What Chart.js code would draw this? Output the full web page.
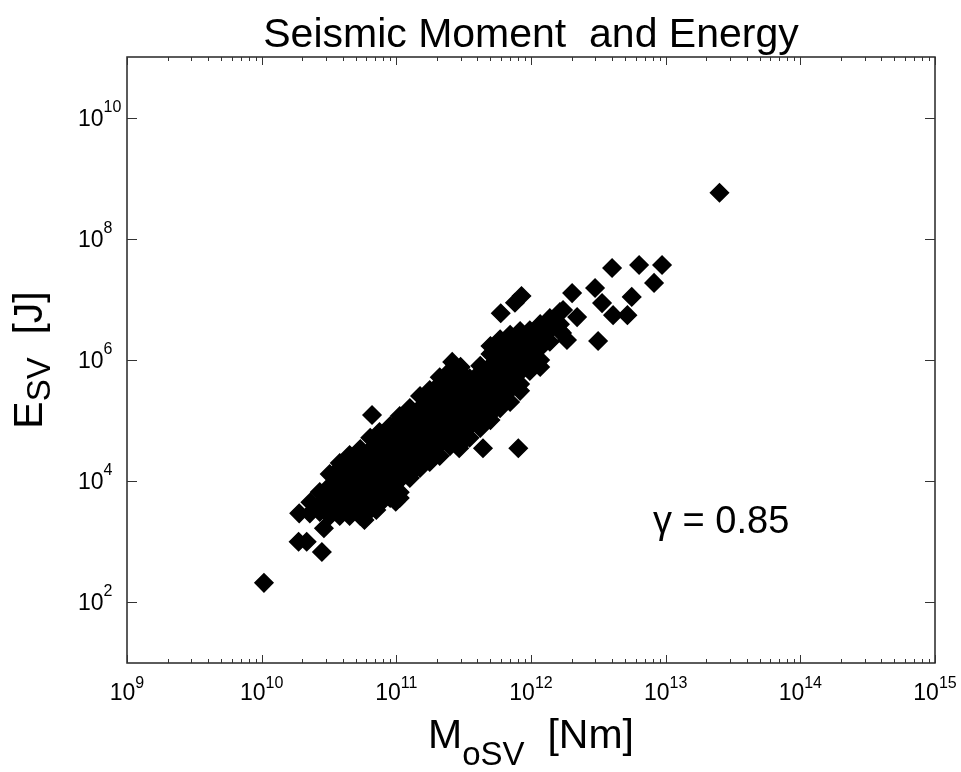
<!DOCTYPE html>
<html>
<head>
<meta charset="utf-8">
<title>Seismic Moment and Energy</title>
<script src="https://cdn.jsdelivr.net/npm/chart.js@4.4.0/dist/chart.umd.min.js"></script>
<style>
  html, body { margin: 0; padding: 0; background: #fff; }
  #wrap { width: 961px; height: 772px; }
</style>
</head>
<body>
<div id="wrap"><canvas id="chart" width="961" height="772"></canvas></div>
<script>
// ---- data (M in Nm, E in J) ----
// dense band: one moment per column, energies stacked in that column
const columnMoment = [
  2.3e10, 2.7e10, 3.2e10, 3.8e10, 4.5e10, 5.4e10, 6.4e10, 7.5e10, 9.0e10,
  1.06e11, 1.26e11, 1.5e11, 1.77e11, 2.1e11, 2.5e11, 3.0e11, 3.5e11, 4.2e11,
  5.0e11, 5.9e11, 7.0e11, 8.3e11, 9.8e11, 1.17e12, 1.38e12, 1.64e12
];
const columnEnergy = [
  [4.5e3],
  [6.6e3, 4.2e3, 3.1e3],
  [1.31e4, 8.3e3, 5.3e3, 3.35e3, 2.66e3],
  [2.0e4, 1.65e4, 1.05e4, 6.6e3, 4.2e3, 2.66e3],
  [2.7e4, 2.07e4, 1.31e4, 8.3e3, 5.3e3, 3.35e3, 2.66e3],
  [3.4e4, 2.6e4, 1.65e4, 1.05e4, 6.6e3, 4.2e3, 2.66e3],
  [5.2e4, 3.3e4, 2.07e4, 1.31e4, 8.3e3, 5.3e3, 3.35e3],
  [6.5e4, 4.1e4, 2.6e4, 1.65e4, 1.05e4, 6.6e3, 4.2e3],
  [8.1e4, 5.2e4, 3.3e4, 2.07e4, 1.31e4, 8.3e3, 5.3e3],
  [1.19e5, 1.02e5, 6.5e4, 4.1e4, 2.6e4, 1.65e4, 1.05e4, 6.6e3, 5.3e3],
  [1.61e5, 1.29e5, 8.1e4, 5.2e4, 3.3e4, 2.07e4, 1.31e4, 1.13e4],
  [2.55e5, 1.61e5, 1.02e5, 6.5e4, 4.1e4, 2.6e4, 1.65e4],
  [3.2e5, 2.03e5, 1.29e5, 8.1e4, 5.2e4, 3.3e4, 2.07e4],
  [5.2e5, 4.0e5, 2.55e5, 1.61e5, 1.02e5, 6.5e4, 4.1e4, 2.6e4],
  [6.6e5, 5.0e5, 3.2e5, 2.03e5, 1.29e5, 8.1e4, 5.2e4, 3.8e4],
  [7.7e5, 6.3e5, 4.0e5, 2.55e5, 1.61e5, 1.02e5, 6.5e4, 4.1e4],
  [5.0e5, 3.2e5, 2.03e5, 1.29e5, 8.1e4, 5.2e4],
  [8.0e5, 6.3e5, 4.0e5, 2.55e5, 1.61e5, 1.02e5, 7.55e4],
  [1.7e6, 1.26e6, 8.0e5, 5.0e5, 3.2e5, 2.03e5, 1.29e5, 1.02e5],
  [2.2e6, 1.6e6, 1.0e6, 6.3e5, 4.0e5, 2.55e5, 1.61e5],
  [2.6e6, 2.0e6, 1.26e6, 8.0e5, 5.0e5, 3.2e5, 2.03e5],
  [3.0e6, 2.5e6, 1.6e6, 1.0e6, 6.3e5, 4.0e5, 3.1e5],
  [3.1e6, 2.0e6, 1.26e6, 8.0e5, 6.6e5],
  [3.9e6, 2.5e6, 1.6e6, 1.0e6, 7.7e5],
  [4.9e6, 3.1e6, 2.0e6],
  [6.2e6, 3.9e6, 3.0e6]
];

// scattered events around the band
const outlierMoment = [
  1.04e10, 1.88e10, 2.16e10, 2.8e10, 1.9e10, 2.28e10, 2.9e10, 5.8e10, 7.1e10, 9.9e10, 6.6e10,
  2.6e11, 2.93e11, 4.4e11, 8.05e11, 5.96e11, 7.6e11, 8.5e11,
  1.7e12, 1.85e12, 1.73e12, 2.02e12, 2.2e12, 2.99e12, 3.15e12, 3.37e12,
  4.07e12, 5.2e12, 5.6e12, 4.0e12, 6.35e12, 9.4e12, 8.2e12, 2.51e13
];
const outlierEnergy = [
  2.1e2, 1.0e3, 1.0e3, 6.8e2, 2.95e3, 2.95e3, 1.67e3, 2.29e3, 3.35e3, 4.6e3, 1.24e5,
  9.3e5, 3.5e4, 3.5e4, 3.5e4, 5.9e6, 8.8e6, 1.14e7,
  2.8e6, 2.14e6, 6.7e6, 1.27e7, 5.1e6, 1.54e7, 2.06e6, 8.7e6,
  5.5e6, 5.5e6, 1.1e7, 3.3e7, 3.7e7, 3.7e7, 1.87e7, 5.76e8
];

// tick exponents (labels are 10^n)
const xTickExp = [9, 10, 11, 12, 13, 14, 15];
const yTickExp = [2, 4, 6, 8, 10];

const titleText = 'Seismic Moment  and Energy';
const gammaText = '\u03B3 = 0.85';

const FONT = '"Liberation Sans", Arial, Helvetica, sans-serif';

const points = [];
columnMoment.forEach((m, i) => columnEnergy[i].forEach(e => points.push({ x: m, y: e })));
outlierMoment.forEach((m, i) => points.push({ x: m, y: outlierEnergy[i] }));

// draws text pieces of different sizes on one baseline; dy shifts a piece down
function drawRuns(ctx, runs, cx, baseY) {
  let total = 0;
  runs.forEach(r => { ctx.font = r.size + 'px ' + FONT; r.w = ctx.measureText(r.text).width; total += r.w; });
  let xPos = cx - total / 2;
  ctx.textAlign = 'left';
  runs.forEach(r => {
    ctx.font = r.size + 'px ' + FONT;
    ctx.fillText(r.text, xPos, baseY + (r.dy || 0));
    xPos += r.w;
  });
}

const axesDecor = {
  id: 'axesDecor',
  afterDraw(chart) {
    const { ctx, chartArea: a, scales: { x, y } } = chart;
    ctx.save();

    // box
    ctx.strokeStyle = '#262626';
    ctx.lineWidth = 1.5;
    ctx.strokeRect(a.left, a.top, a.right - a.left, a.bottom - a.top);

    // inward ticks
    ctx.lineWidth = 1;
    ctx.strokeStyle = '#333';
    ctx.beginPath();
    xTickExp.forEach((p, i) => {
      const px = Math.round(x.getPixelForValue(10 ** p)) + 0.5;
      ctx.moveTo(px, a.bottom); ctx.lineTo(px, a.bottom - 8);
      ctx.moveTo(px, a.top); ctx.lineTo(px, a.top + 8);
      if (i < xTickExp.length - 1) {
        for (let k = 2; k <= 9; k++) {
          const mx = Math.round(x.getPixelForValue(k * 10 ** p)) + 0.5;
          ctx.moveTo(mx, a.bottom); ctx.lineTo(mx, a.bottom - 4);
          ctx.moveTo(mx, a.top); ctx.lineTo(mx, a.top + 4);
        }
      }
    });
    yTickExp.forEach(p => {
      const py = Math.round(y.getPixelForValue(10 ** p)) + 0.5;
      ctx.moveTo(a.left, py); ctx.lineTo(a.left + 10, py);
      ctx.moveTo(a.right, py); ctx.lineTo(a.right - 10, py);
    });
    ctx.stroke();

    ctx.fillStyle = '#000';
    ctx.textBaseline = 'alphabetic';

    // x tick labels
    xTickExp.forEach(p => {
      const px = x.getPixelForValue(10 ** p);
      ctx.font = '23px ' + FONT;
      const w1 = ctx.measureText('10').width;
      ctx.font = '16px ' + FONT;
      const w2 = ctx.measureText(String(p)).width;
      const left = px - (w1 + w2) / 2;
      ctx.textAlign = 'left';
      ctx.font = '23px ' + FONT;
      ctx.fillText('10', left, a.bottom + 37);
      ctx.font = '16px ' + FONT;
      ctx.fillText(String(p), left + w1, a.bottom + 25);
    });

    // y tick labels
    yTickExp.forEach(p => {
      const py = y.getPixelForValue(10 ** p);
      ctx.textAlign = 'left';
      ctx.font = '23px ' + FONT;
      const w1 = ctx.measureText('10').width;
      ctx.fillText('10', 78, py + 8);
      ctx.font = '16px ' + FONT;
      ctx.fillText(String(p), 78 + w1, py - 6);
    });

    const cx = (a.left + a.right) / 2;
    const cy = (a.top + a.bottom) / 2;

    // title
    ctx.textAlign = 'center';
    ctx.font = '41px ' + FONT;
    ctx.fillText(titleText, cx, 47);

    // axis titles
    drawRuns(ctx, [
      { text: 'M', size: 41 },
      { text: 'oSV', size: 33, dy: 17 },
      { text: '  [Nm]', size: 41 }
    ], cx, 748);

    ctx.save();
    ctx.translate(42, cy);
    ctx.rotate(-Math.PI / 2);
    drawRuns(ctx, [
      { text: 'E', size: 41 },
      { text: 'SV', size: 33, dy: 8 },
      { text: '  [J]', size: 41 }
    ], 0, 0);
    ctx.restore();

    // annotation
    ctx.textAlign = 'left';
    ctx.font = '38px ' + FONT;
    ctx.fillText(gammaText, 653, 533);

    ctx.restore();
  }
};

new Chart(document.getElementById('chart'), {
  type: 'scatter',
  data: {
    datasets: [{
      data: points,
      pointStyle: 'rectRot',
      pointRadius: 9,
      backgroundColor: '#000',
      borderColor: '#000',
      borderWidth: 1.5
    }]
  },
  options: {
    responsive: false,
    devicePixelRatio: 1,
    animation: false,
    layout: { padding: { left: 127, right: 26, top: 57, bottom: 109 } },
    plugins: { legend: { display: false }, tooltip: { enabled: false }, title: { display: false } },
    scales: {
      x: { type: 'logarithmic', min: 1e9, max: 1e15, display: false },
      y: { type: 'logarithmic', min: 1e1, max: 1e11, display: false }
    }
  },
  plugins: [axesDecor]
});
</script>
</body>
</html>
